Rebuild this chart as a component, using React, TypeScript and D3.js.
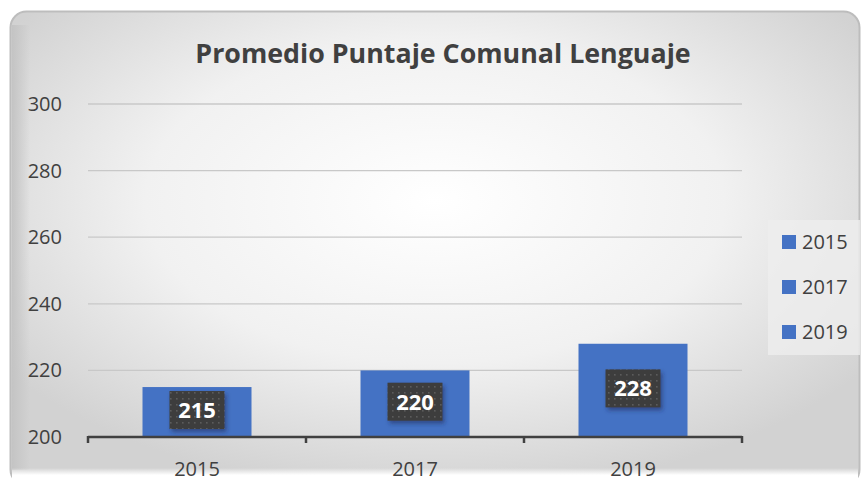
import React from "react";
import * as d3 from "d3";

const categories = ["2015", "2017", "2019"];
const values = [215, 220, 228];
const yTicks = [200, 220, 240, 260, 280, 300];
const legendLabels = ["2015", "2017", "2019"];
const title = "Promedio Puntaje Comunal Lenguaje";

const W = 862;
const H = 488;
const FONT = "'Open Sans', 'DejaVu Sans', sans-serif";
const BAR = "#4472C4";
const TXT = "#404040";

export default function App() {
  const x = d3.scaleBand<string>().domain(categories).range([88, 742]).paddingInner(0).paddingOuter(0);
  const y = d3.scaleLinear().domain([200, 300]).range([437, 104]);
  const barW = x.bandwidth() * 0.5;
  const boundaries = [...categories.map((c) => x(c) as number), 742];

  return (
    <svg width={W} height={H} style={{ position: "absolute", left: 0, top: 0 }}>
      <defs>
        <radialGradient id="bg" cx="0.5" cy="0.4" r="0.62">
          <stop offset="0" stopColor="#ffffff" />
          <stop offset="0.55" stopColor="#f1f1f1" />
          <stop offset="1" stopColor="#d2d2d2" />
        </radialGradient>
        <linearGradient id="bottom" x1="0" y1="0" x2="0" y2="1">
          <stop offset="0" stopColor="#ffffff" stopOpacity="0" />
          <stop offset="0.35" stopColor="#ffffff" stopOpacity="1" />
          <stop offset="1" stopColor="#ffffff" stopOpacity="1" />
        </linearGradient>
        <linearGradient id="leftEdge" x1="0" y1="0" x2="1" y2="0">
          <stop offset="0" stopColor="#c4c4c4" stopOpacity="1" />
          <stop offset="1" stopColor="#c4c4c4" stopOpacity="0" />
        </linearGradient>
        <pattern id="dots" width="6" height="6" patternUnits="userSpaceOnUse">
          <rect width="6" height="6" fill="#3d3d3d" />
          <rect x="2" y="2" width="1.6" height="1.6" fill="#5c5c5c" />
        </pattern>
        <filter id="shadow" x="-30%" y="-30%" width="160%" height="170%">
          <feDropShadow dx="2" dy="3" stdDeviation="2" floodColor="#1a2a55" floodOpacity="0.55" />
        </filter>
      </defs>

      <rect x={0} y={0} width={W} height={H} fill="#ffffff" />
      <rect x={10.5} y={11.5} width={849} height={474} rx={16} fill="url(#bg)" stroke="#bdbdbd" strokeWidth={2} />
      <rect x={12} y={25} width={18} height={445} fill="url(#leftEdge)" />
      <rect x={12} y={468} width={846} height={20} fill="url(#bottom)" />

      <text x={443} y={63} textAnchor="middle" fontFamily={FONT} fontWeight={700} fontSize={26.8} fill={TXT}>
        {title}
      </text>

      {yTicks.filter((t) => t > 200).map((t) => (
        <line key={t} x1={88} x2={742} y1={y(t)} y2={y(t)} stroke="#c8c8c8" strokeWidth={1.3} />
      ))}
      {yTicks.map((t) => (
        <text key={"l" + t} x={62} y={y(t) + 7} textAnchor="end" fontFamily={FONT} fontSize={20} fill={TXT}>
          {t}
        </text>
      ))}

      {categories.map((c, i) => {
        const cx = (x(c) as number) + x.bandwidth() / 2;
        return (
          <rect key={c} x={cx - barW / 2} y={y(values[i])} width={barW} height={y(200) - y(values[i])} fill={BAR} />
        );
      })}

      <line x1={88} x2={742} y1={437} y2={437} stroke={TXT} strokeWidth={2.5} />
      {boundaries.map((b, i) => (
        <line key={"t" + i} x1={b} x2={b} y1={436} y2={443} stroke={TXT} strokeWidth={2.5} />
      ))}

      {categories.map((c) => (
        <text key={"x" + c} x={(x(c) as number) + x.bandwidth() / 2} y={476} textAnchor="middle" fontFamily={FONT} fontSize={20} fill={TXT}>
          {c}
        </text>
      ))}

      {categories.map((c, i) => {
        const cx = (x(c) as number) + x.bandwidth() / 2;
        const cy = (y(values[i]) + y(200)) / 2 - 2;
        return (
          <g key={"d" + c}>
            <rect x={cx - 27.5} y={cy - 19} width={55} height={38} fill="url(#dots)" filter="url(#shadow)" />
            <text x={cx} y={cy + 8} textAnchor="middle" fontFamily={FONT} fontWeight={700} fontSize={22} fill="#ffffff">
              {values[i]}
            </text>
          </g>
        );
      })}

      <rect x={768} y={220} width={92} height={135} fill="#ededed" fillOpacity={0.8} />
      {legendLabels.map((l, i) => {
        const cy = 242 + i * 45;
        return (
          <g key={"lg" + l}>
            <rect x={782} y={cy - 7} width={14} height={14} fill={BAR} />
            <text x={802} y={cy + 7} fontFamily={FONT} fontSize={20} fill={TXT}>
              {l}
            </text>
          </g>
        );
      })}
    </svg>
  );
}
